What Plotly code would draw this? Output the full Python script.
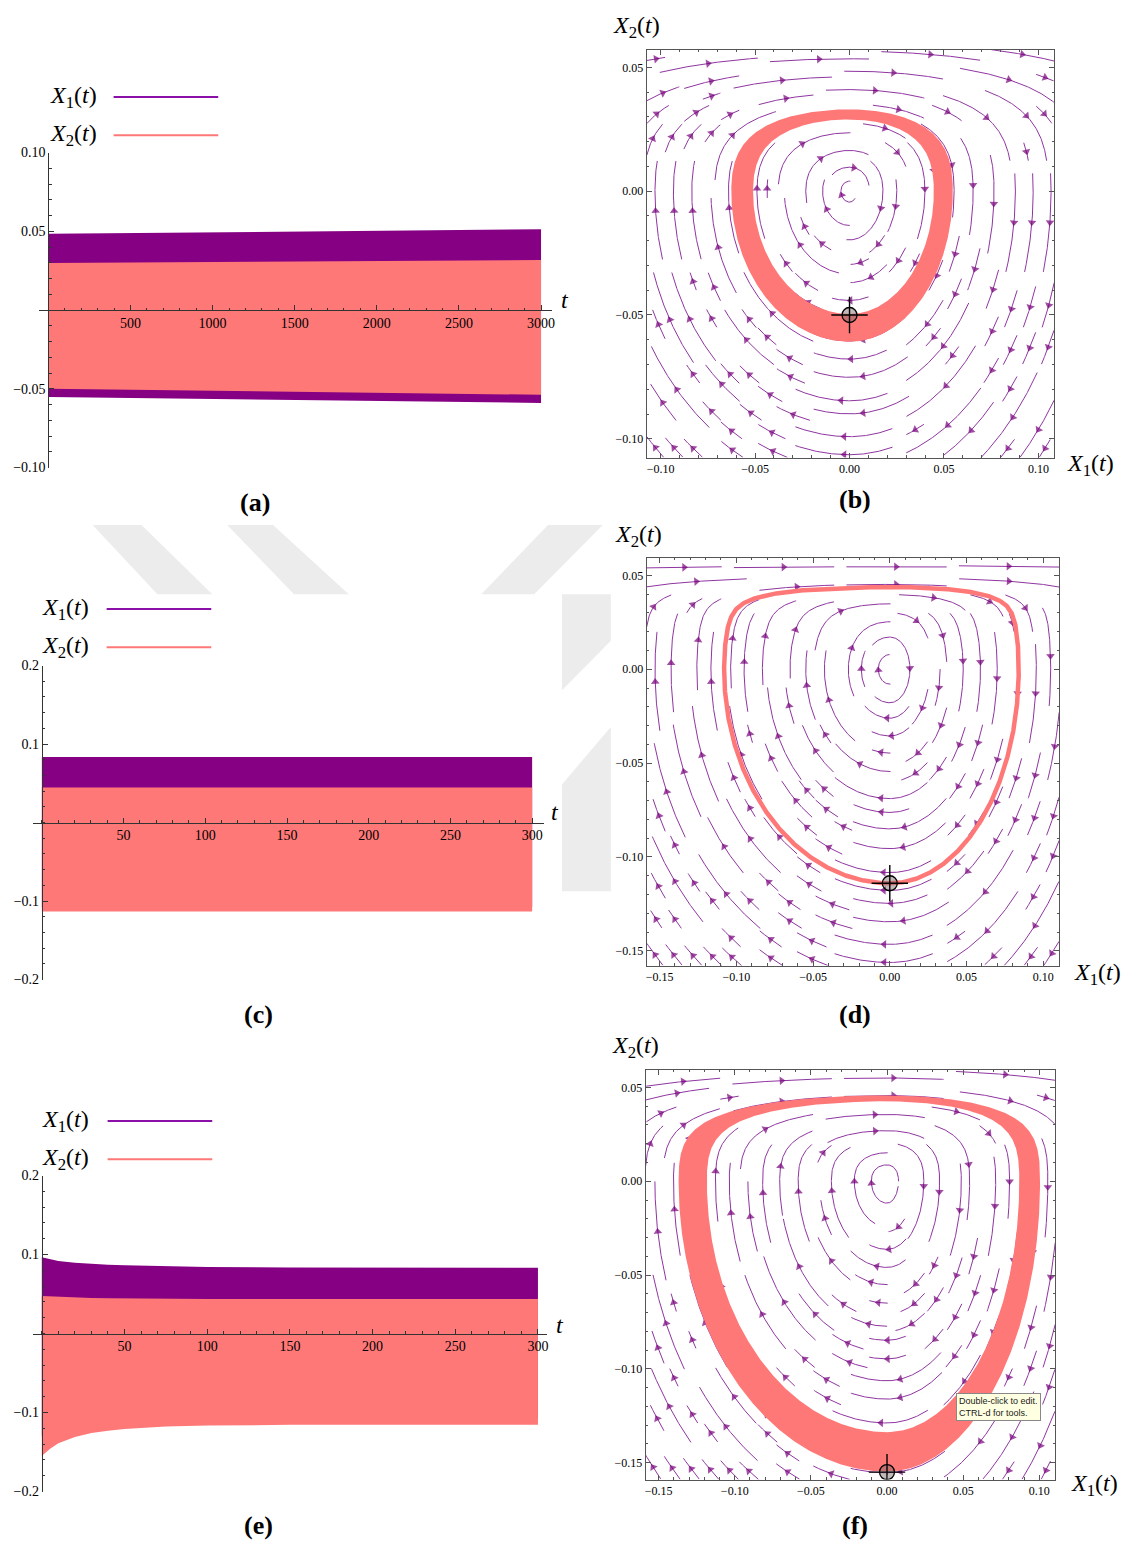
import numpy as np
import plotly.graph_objects as go

W, H = 1125, 1551
SERIF = "Liberation Serif"
PURPLE = "#860083"
PINK = "#ff7878"
STREAM = "#8f35a0"
ARROW = "#76007a"

# ---------------- time-series envelopes (upper / lower reach of each oscillation)
T_A = [0, 500, 1000, 1500, 2000, 2500, 3000]
X1_MAX_A = [0.0484, 0.0489, 0.0494, 0.0499, 0.0503, 0.0508, 0.0513]
X1_MIN_A = [-0.0553, -0.0559, -0.0565, -0.0571, -0.0578, -0.0584, -0.0590]
X2_MAX_A = [0.0299, 0.0302, 0.0305, 0.0309, 0.0312, 0.0315, 0.0318]
X2_MIN_A = [-0.0500, -0.0506, -0.0512, -0.0519, -0.0525, -0.0531, -0.0538]

T_C = [0, 300]
X1_MAX_C = [0.0835, 0.0835]
X1_MIN_C = [-0.108, -0.108]
X2_MAX_C = [0.0445, 0.0445]
X2_MIN_C = [-0.1135, -0.1135]

T_E = [0, 5, 10, 20, 30, 40, 50, 75, 100, 150, 200, 250, 300]
X1_MAX_E = [0.0965, 0.0940, 0.0920, 0.0895, 0.0880, 0.0870, 0.0865, 0.0850, 0.0842, 0.0835, 0.0833, 0.0833, 0.0833]
X1_MIN_E = [-0.130, -0.126, -0.123, -0.118, -0.115, -0.113, -0.112, -0.110, -0.109, -0.108, -0.108, -0.108, -0.108]
X2_MAX_E = [0.0475, 0.0470, 0.0465, 0.0455, 0.0450, 0.0447, 0.0445, 0.0441, 0.0439, 0.0438, 0.0438, 0.0438, 0.0438]
X2_MIN_E = [-0.155, -0.146, -0.139, -0.131, -0.126, -0.123, -0.121, -0.1177, -0.1165, -0.1156, -0.1154, -0.1154, -0.1154]

# ---------------- phase-plane systems:  X1' = dV/dX2 ,  X2' = -X1 / s^2
# V(X2) = X2^2/2 + A * P(k * max(X2, 0)),  P(u) = e^u - 1 - u - u^2/2
# A is fixed so that the inner edge of the cycle band passes through
# (0, -depth) and (0, top); s differs left / right of X1 = 0
WALL_K = {"b": 60.0, "d": 220.0, "f": 75.0}
S_LEFT = {"b": 1.03, "d": 0.947, "f": 0.885}
S_RIGHT = {"b": 0.90, "d": 0.737, "f": 0.65}
CYCLE_TOP = {"b": 0.029, "d": 0.0438, "f": 0.0426}
CYCLE_INNER = {"b": 0.0496, "d": 0.1125, "f": 0.1337}
CYCLE_OUTER = {"b": 0.0608, "d": 0.1155, "f": 0.1547}
START = {"b": (0.0, -0.050), "d": (0.0, -0.114), "f": (0.0, -0.155)}

TICKS_B = [-0.10, -0.05, 0.00, 0.05, 0.10]
TICKS_DF_X = [-0.15, -0.10, -0.05, 0.00, 0.05, 0.10]
TICKS_DF_Y = [-0.15, -0.10, -0.05, 0.00, 0.05]


def px_x(p):
    return p / W


def px_y(p):
    return 1 - p / H


def _p(u):
    return np.exp(u) - 1 - u - u ** 2 / 2


def wall_amp(key):
    dep = CYCLE_INNER[key]
    if key == "d":
        dep = (CYCLE_INNER[key] + CYCLE_OUTER[key]) / 2
    top = CYCLE_TOP[key]
    return (dep ** 2 / 2 - top ** 2 / 2) / _p(WALL_K[key] * top)


AMP = {key: wall_amp(key) for key in WALL_K}


def field(key):
    k, a, sl, sr = WALL_K[key], AMP[key], S_LEFT[key], S_RIGHT[key]

    def f(x1, x2):
        s = sl if x1 < 0 else sr
        u = k * max(x2, 0.0)
        return x2 + a * k * (np.exp(u) - 1 - u), -x1 / s ** 2
    return f


def energy(key, x1, x2):
    k, a, sl, sr = WALL_K[key], AMP[key], S_LEFT[key], S_RIGHT[key]
    s = np.where(x1 < 0, sl, sr)
    return x1 ** 2 / (2 * s ** 2) + x2 ** 2 / 2 + a * _p(k * np.maximum(x2, 0))


def level_curve(key, depth, n=1400):
    # closed curve through (0, -depth); starts and ends at the bottom point
    e = depth ** 2 / 2
    th = np.linspace(-np.pi / 2, 1.5 * np.pi, n)
    c, s = np.cos(th), np.sin(th)
    lo, hi = np.zeros(n), np.full(n, 0.6)
    for _ in range(60):
        mid = (lo + hi) / 2
        over = energy(key, mid * c, mid * s) > e
        hi = np.where(over, mid, hi)
        lo = np.where(over, lo, mid)
    r = (lo + hi) / 2
    return r * c, r * s


def spiral_cells(nx, ny):
    order = []
    top, bot, left, right = 0, ny - 1, 0, nx - 1
    while top <= bot and left <= right:
        for j in range(left, right + 1):
            order.append((top, j))
        for i in range(top + 1, bot + 1):
            order.append((i, right))
        if top < bot:
            for j in range(right - 1, left - 1, -1):
                order.append((bot, j))
        if left < right:
            for i in range(bot - 1, top, -1):
                order.append((i, left))
        top, bot, left, right = top + 1, bot - 1, left + 1, right - 1
    return order


def streamlines(f, xr, yr, nx, ny, max_half=4.8, min_len=1.0, ds=0.05):
    mask = np.full((ny, nx), -1, dtype=int)
    sx = nx / (xr[1] - xr[0])
    sy = ny / (yr[1] - yr[0])

    def vel(u, v):
        a, b = f(xr[0] + u / sx, yr[0] + v / sy)
        du, dv = a * sx, b * sy
        n = np.hypot(du, dv)
        if n < 1e-12:
            return None
        return du / n, dv / n

    def run(u, v, sgn, sid, cells):
        pts, cell, L = [], (int(v), int(u)), 0.0
        while L < max_half:
            k1 = vel(u, v)
            if k1 is None:
                break
            um, vm = u + sgn * 0.5 * ds * k1[0], v + sgn * 0.5 * ds * k1[1]
            if not (0 <= um < nx and 0 <= vm < ny):
                break
            k2 = vel(um, vm)
            if k2 is None:
                break
            un, vn = u + sgn * ds * k2[0], v + sgn * ds * k2[1]
            if not (0 <= un < nx and 0 <= vn < ny):
                break
            c = (int(vn), int(un))
            if c != cell:
                if mask[c] != -1:
                    break
                mask[c] = sid
                cells.append(c)
                cell = c
            u, v = un, vn
            pts.append((u, v))
            L += ds
        return pts

    paths = []
    for sid, (i, j) in enumerate(spiral_cells(nx, ny)):
        if mask[i, j] != -1:
            continue
        mask[i, j] = sid
        cells = [(i, j)]
        u0, v0 = j + 0.5, i + 0.5
        back = run(u0, v0, -1, sid, cells)
        fwd = run(u0, v0, 1, sid, cells)
        pts = back[::-1] + [(u0, v0)] + fwd
        if (len(pts) - 1) * ds < min_len:
            for c in cells:
                mask[c] = -1
            continue
        arr = np.array(pts)
        xs = xr[0] + arr[:, 0] / sx
        ys = yr[0] + arr[:, 1] / sy
        paths.append((xs, ys))
    return paths, ds


def stream_traces(key, xr, yr, nx, ny, axx, axy):
    paths, ds = streamlines(field(key), xr, yr, nx, ny)
    lx, ly, ax, ay, asz = [], [], [], [], []
    for xs, ys in paths:
        lx += list(xs) + [None]
        ly += list(ys) + [None]
        L = (len(xs) - 1) * ds
        k = max(1, int(round(L / 4.8)))
        for m in range(k):
            idx = int(((m + 0.5) * L / k) / ds)
            idx = min(max(idx, 3), len(xs) - 1)
            ax += [xs[idx - 3], xs[idx]]
            ay += [ys[idx - 3], ys[idx]]
            asz += [0, 7.5]
    lines = go.Scatter(x=lx, y=ly, mode="lines", xaxis=axx, yaxis=axy,
                       line=dict(color=STREAM, width=1), hoverinfo="skip", showlegend=False)
    heads = go.Scatter(x=ax, y=ay, mode="markers", xaxis=axx, yaxis=axy,
                       marker=dict(symbol="triangle-up", size=asz, color=ARROW,
                                   angleref="previous", line=dict(width=0)),
                       hoverinfo="skip", showlegend=False)
    return [lines, heads]


def band_trace(t, lo, hi, color, axx, axy):
    return go.Scatter(x=list(t) + list(t)[::-1], y=list(hi) + list(lo)[::-1],
                      fill="toself", fillcolor=color, mode="lines",
                      line=dict(width=0, color=color), xaxis=axx, yaxis=axy,
                      hoverinfo="skip", showlegend=False)


def cycle_traces(key, axx, axy, as_line=False):
    out = []
    if as_line:
        cx, cy = level_curve(key, (CYCLE_INNER[key] + CYCLE_OUTER[key]) / 2)
        out.append(go.Scatter(x=cx, y=cy, mode="lines", xaxis=axx, yaxis=axy,
                              line=dict(color=PINK, width=4.5), hoverinfo="skip", showlegend=False))
    else:
        ox, oy = level_curve(key, CYCLE_OUTER[key])
        ix, iy = level_curve(key, CYCLE_INNER[key])
        out.append(go.Scatter(x=np.concatenate([ox, ix[::-1]]), y=np.concatenate([oy, iy[::-1]]),
                              fill="toself", fillcolor=PINK, mode="lines",
                              line=dict(width=0, color=PINK), xaxis=axx, yaxis=axy,
                              hoverinfo="skip", showlegend=False))
    sx0, sy0 = START[key]
    out.append(go.Scatter(x=[sx0], y=[sy0], mode="markers", xaxis=axx, yaxis=axy,
                          marker=dict(symbol="circle", size=15, color="rgba(120,100,100,0.45)",
                                      line=dict(color="black", width=1.3)),
                          hoverinfo="skip", showlegend=False))
    out.append(go.Scatter(x=[sx0], y=[sy0], mode="markers", xaxis=axx, yaxis=axy,
                          marker=dict(symbol="cross-thin-open", size=26, color="black",
                                      line=dict(color="black", width=1.4)),
                          hoverinfo="skip", showlegend=False))
    return out


def note(text, x, y, size, **kw):
    d = dict(text=text, x=px_x(x), y=px_y(y), xref="paper", yref="paper", showarrow=False,
             xanchor="center", yanchor="middle", font=dict(size=size, family=SERIF, color="black"))
    d.update(kw)
    return d


fig = go.Figure()
layout = dict(width=W, height=H, margin=dict(l=0, r=0, t=0, b=0),
              paper_bgcolor="white", plot_bgcolor="rgba(0,0,0,0)",
              font=dict(family=SERIF, size=12, color="black"), showlegend=False)
annotations, shapes = [], []

# ---------------- time-series panels
TS = [
    ("a", 1, (38, 553), (147, 465), (-58, 3067), (-0.10, 0.10),
     [500, 1000, 1500, 2000, 2500, 3000], [-0.10, -0.05, 0.05, 0.10], 100, 0.01, ".2f",
     (T_A, X1_MIN_A, X1_MAX_A, X2_MIN_A, X2_MAX_A), (566, 296), (73, 88, 113, 218)),
    ("c", 3, (32, 545), (665, 982), (-5.5, 307.3), (-0.2, 0.2),
     [50, 100, 150, 200, 250, 300], [-0.2, -0.1, 0.1, 0.2], 10, 0.02, ".1f",
     (T_C, X1_MIN_C, X1_MAX_C, X2_MIN_C, X2_MAX_C), (556, 813), (65, 605, 106, 211)),
    ("e", 5, (32, 548), (1180, 1499), (-5.4, 305.5), (-0.2, 0.2),
     [50, 100, 150, 200, 250, 300], [-0.2, -0.1, 0.1, 0.2], 10, 0.02, ".1f",
     (T_E, X1_MIN_E, X1_MAX_E, X2_MIN_E, X2_MAX_E), (561, 1331), (65, 1122, 107, 212)),
]

for name, k, dx, dy, xr, yr, xt, yt, xm, ym, fmt, data, tpos, leg in TS:
    axx, axy = f"x{k}", f"y{k}"
    t, x1lo, x1hi, x2lo, x2hi = data
    fig.add_trace(band_trace(t, x1lo, x1hi, PURPLE, axx, axy))
    fig.add_trace(band_trace(t, x2lo, x2hi, PINK, axx, axy))
    zero_y = dy[0] + (yr[1] - 0) / (yr[1] - yr[0]) * (dy[1] - dy[0])
    zero_x = dx[0] + (0 - xr[0]) / (xr[1] - xr[0]) * (dx[1] - dx[0])
    layout[f"xaxis{k}"] = dict(domain=[px_x(dx[0]), px_x(dx[1])], range=list(xr), anchor="free",
                               position=px_y(zero_y), showline=True, linecolor="#333", linewidth=1,
                               showgrid=False, zeroline=False, tickmode="array", tickvals=xt,
                               ticks="inside", ticklen=5, tickcolor="#333", tickfont=dict(size=14),
                               minor=dict(tickmode="linear", tick0=0, dtick=xm, ticks="inside",
                                          ticklen=2.5, tickcolor="#333"))
    layout[f"yaxis{k}"] = dict(domain=[px_y(dy[1]), px_y(dy[0])], range=list(yr), anchor="free",
                               position=px_x(zero_x), showline=True, linecolor="#333", linewidth=1,
                               showgrid=False, zeroline=False, tickmode="array", tickvals=yt,
                               tickformat=fmt, ticks="inside", ticklen=5, tickcolor="#333",
                               tickfont=dict(size=14),
                               minor=dict(tickmode="linear", tick0=0, dtick=ym, ticks="inside",
                                          ticklen=2.5, tickcolor="#333"))
    annotations.append(note("<i>t</i>", tpos[0], tpos[1], 24))
    lx, ly, l0, l1 = leg
    for j, (lab, col) in enumerate([("<i>X</i><sub>1</sub>(<i>t</i>)", "#8a10a8"),
                                    ("<i>X</i><sub>2</sub>(<i>t</i>)", PINK)]):
        yy = ly + j * 38.5
        annotations.append(note(lab, lx, yy + 3, 24))
        shapes.append(dict(type="line", xref="paper", yref="paper", x0=px_x(l0), x1=px_x(l1),
                           y0=px_y(yy + 3), y1=px_y(yy + 3), line=dict(color=col, width=2)))

# ---------------- phase-plane panels
PH = [
    ("b", 2, (648, 1057), (43, 455), (-0.1074, 0.1084), (-0.1076, 0.0572), TICKS_B, TICKS_B[:-1],
     False, (638, 17), (1093, 459)),
    ("d", 4, (648, 1062), (556, 968), (-0.1584, 0.1104), (-0.1579, 0.0595), TICKS_DF_X, TICKS_DF_Y,
     True, (640, 531), (1100, 973)),
    ("f", 6, (647, 1058), (1073, 1487), (-0.1585, 0.1105), (-0.1590, 0.0595), TICKS_DF_X, TICKS_DF_Y,
     False, (637, 1047), (1097, 1489)),
]

for key, k, dx, dy, xr, yr, xt, yt, thin, ylab, xlab in PH:
    axx, axy = f"x{k}", f"y{k}"
    nx = int(round((dx[1] - dx[0]) / 18.5))
    ny = int(round((dy[1] - dy[0]) / 18.5))
    for tr in stream_traces(key, xr, yr, nx, ny, axx, axy):
        fig.add_trace(tr)
    for tr in cycle_traces(key, axx, axy, as_line=thin):
        fig.add_trace(tr)
    common = dict(showline=True, linecolor="#555", linewidth=1, mirror="allticks", showgrid=False,
                  zeroline=False, ticks="inside", ticklen=5, tickcolor="#555", tickformat=".2f",
                  tickfont=dict(size=12), tickmode="array")
    layout[f"xaxis{k}"] = dict(domain=[px_x(dx[0]), px_x(dx[1])], range=list(xr), anchor=axy,
                               tickvals=xt,
                               minor=dict(tickmode="linear", tick0=0, dtick=0.01, ticks="inside",
                                          ticklen=2.5, tickcolor="#555"), **common)
    layout[f"yaxis{k}"] = dict(domain=[px_y(dy[1]), px_y(dy[0])], range=list(yr), anchor=axx,
                               tickvals=yt,
                               minor=dict(tickmode="linear", tick0=0, dtick=0.01, ticks="inside",
                                          ticklen=2.5, tickcolor="#555"), **common)
    annotations.append(note("<i>X</i><sub>2</sub>(<i>t</i>)", ylab[0], ylab[1] + 3, 24))
    annotations.append(note("<i>X</i><sub>1</sub>(<i>t</i>)", xlab[0], xlab[1] + 3, 24))

# ---------------- panel letters
for lab, (x, y) in zip(["(a)", "(b)", "(c)", "(d)", "(e)", "(f)"],
                       [(255, 500), (857, 497), (258, 1017), (857, 1017), (258, 1533), (857, 1533)]):
    annotations.append(note(f"<b>{lab}</b>", x, y, 26))

# ---------------- faint background stripes
WM = [
    [(92, 523), (141, 523), (212, 593), (157, 593)],
    [(227, 523), (273, 523), (349, 593), (294, 593)],
    [(549, 523), (604, 523), (535, 593), (482, 593)],
    [(563, 593), (612, 593), (612, 640), (563, 690)],
    [(612, 727), (612, 893), (563, 893), (563, 785)],
]
for poly in WM:
    path = "M " + " L ".join(f"{px_x(a):.5f},{px_y(b):.5f}" for a, b in poly) + " Z"
    shapes.append(dict(type="path", path=path, xref="paper", yref="paper", fillcolor="#ececec",
                       line=dict(width=0), layer="below"))

# ---------------- editor hint box
annotations.append(dict(text="Double-click to edit.<br>CTRL-d for tools.", x=px_x(958), y=px_y(1400),
                        xref="paper", yref="paper", xanchor="left", yanchor="top", align="left",
                        showarrow=False, bgcolor="#ffffe1", bordercolor="#888", borderwidth=1,
                        borderpad=2, font=dict(family="Liberation Sans", size=9, color="#222")))

layout["annotations"] = annotations
layout["shapes"] = shapes
fig.update_layout(**layout)
fig.write_html("out.html")
